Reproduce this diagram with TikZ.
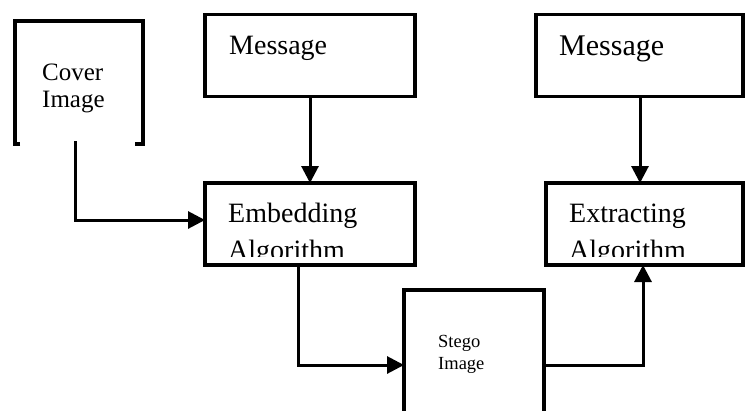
\documentclass[tikz,border=0pt]{standalone}
\usepackage{fontspec}
\setmainfont{Liberation Serif}
\usetikzlibrary{arrows.meta}
\begin{document}
\begin{tikzpicture}[x=1pt,y=-1pt,
  box/.style={draw,line width=3.5pt,inner sep=0pt,outer sep=0pt,anchor=north west},
  ghost/.style={inner sep=0pt,outer sep=0pt,anchor=north west},
  lbl/.style={inner sep=0pt,anchor=base west},
  arr/.style={line width=3pt,-{Triangle[length=17pt,width=17pt]}},
  ln/.style={line width=3pt}]
\useasboundingbox (0,0) rectangle (747,410);
% boxes
\node[ghost,minimum width=128pt,minimum height=123pt] (cover) at (15,21) {};
\draw[line width=3.5pt] ([xshift=5pt]cover.south west) -- (cover.south west) -- (cover.north west)
  -- (cover.north east) -- (cover.south east) -- ([xshift=-8pt]cover.south east);
\node[box,minimum width=210pt,minimum height=82pt] (msgA) at (205,14.5) {};
\node[box,minimum width=210pt,minimum height=82pt] (emb) at (205,183) {};
\node[box,minimum width=207pt,minimum height=82pt] (msgB) at (536,14.5) {};
\node[box,minimum width=197pt,minimum height=82pt] (ext) at (546,183) {};
\node[box,minimum width=140pt,minimum height=140pt] (stego) at (404,290) {};
% texts
\node[lbl,font=\fontsize{25}{30}\selectfont] (tcover) at (42,80) {Cover};
\node[lbl,font=\fontsize{25}{30}\selectfont] (timg) at (42,107) {Image};
\node[lbl,font=\fontsize{28}{34}\selectfont] (tmsgA) at (229,54) {Message};
\node[lbl,font=\fontsize{30}{36}\selectfont] (tmsgB) at (559,55) {Message};
\node[lbl,font=\fontsize{28}{34}\selectfont] (temb) at (228,222) {Embedding};
\node[lbl,font=\fontsize{28}{34}\selectfont] (text) at (569,222) {Extracting};
\begin{scope}
\clip (200,230) rectangle (747,256);
\node[lbl,font=\fontsize{28}{34}\selectfont] (talgA) at (228,259) {Algorithm};
\node[lbl,font=\fontsize{28}{34}\selectfont] (talgB) at (569,259) {Algorithm};
\end{scope}
\node[lbl,font=\fontsize{18.5}{22}\selectfont] (tstego) at (438,347) {Stego};
\node[lbl,font=\fontsize{18.5}{22}\selectfont] (tsimg) at (438,369) {Image};
% connectors
\coordinate (c1) at ([xshift=-4pt,yshift=3pt]cover.south);
\draw[arr] (c1) |- (emb.west |- 0,220);
\draw[arr] (msgA.south) -- (emb.north);
\draw[arr] (msgB.south -| 640,0) -- (ext.north -| 640,0);
\coordinate (c2) at ([xshift=-12pt]emb.south);
\draw[arr] (c2) |- (stego.west |- 0,365);
\draw[ln] (stego.east |- 0,365) -| (643,280);
\draw[arr] (643,300) -- (ext.south -| 643,0);
\end{tikzpicture}
\end{document}
